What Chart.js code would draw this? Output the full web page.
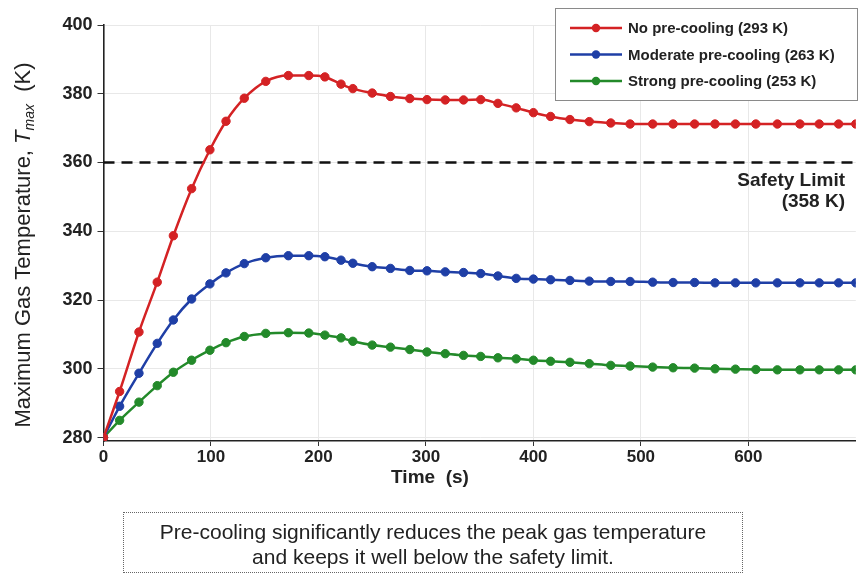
<!DOCTYPE html>
<html>
<head>
<meta charset="utf-8">
<title>Maximum gas temperature</title>
<script src="https://cdn.jsdelivr.net/npm/chart.js@4.4.1/dist/chart.umd.min.js"></script>
<style>
  body { margin: 0; background: #fff; }
  #wrap { position: relative; width: 861px; height: 574px; }
  #note {
    position: absolute;
    left: 123px;
    top: 512px;
    width: 620px;
    height: 61px;
    box-sizing: border-box;
    border: 1px dotted #666;
    padding-top: 6px;
    font: 21px "Liberation Sans", Arial, sans-serif;
    line-height: 25px;
    color: #222;
    text-align: center;
    white-space: nowrap;
  }
</style>
</head>
<body>
<div id="wrap">
  <canvas id="tempGraph" width="861" height="574"></canvas>
  <div id="note">Pre-cooling significantly reduces the peak gas temperature<br>and keeps it well below the safety limit.</div>
</div>
<script>
"use strict";

//DATA
const timeS = [0, 15, 33, 50, 65, 82, 99, 114, 131, 151,
  172, 191, 206, 221, 232, 250, 267, 285, 301, 318,
  335, 351, 367, 384, 400, 416, 434, 452, 472, 490,
  511, 530, 550, 569, 588, 607, 627, 648, 666, 684, 700];

const noPreCooling = [280, 293.4, 310.7, 325.2, 338.7, 352.4, 363.7, 372.0, 378.7, 383.6,
  385.3, 385.3, 384.9, 382.8, 381.5, 380.2, 379.2, 378.6, 378.3, 378.2,
  378.2, 378.3, 377.2, 375.9, 374.5, 373.4, 372.5, 371.9, 371.5, 371.2,
  371.2, 371.2, 371.2, 371.2, 371.2, 371.2, 371.2, 371.2, 371.2, 371.2, 371.2];

const moderatePreCooling = [280, 289.1, 298.7, 307.4, 314.2, 320.3, 324.7, 327.9, 330.6, 332.3,
  332.9, 332.9, 332.6, 331.6, 330.7, 329.7, 329.2, 328.6, 328.5, 328.2,
  328.0, 327.7, 327.0, 326.3, 326.1, 325.9, 325.7, 325.5, 325.4, 325.4,
  325.2, 325.1, 325.1, 325.0, 325.0, 325.0, 325.0, 325.0, 325.0, 325.0, 325.0];

const strongPreCooling = [280, 285.0, 290.3, 295.1, 299.0, 302.5, 305.4, 307.6, 309.4, 310.3,
  310.5, 310.4, 309.8, 309.0, 308.0, 306.9, 306.3, 305.6, 304.9, 304.4,
  303.9, 303.6, 303.2, 302.9, 302.5, 302.2, 301.9, 301.5, 301.0, 300.8,
  300.5, 300.3, 300.2, 300.0, 299.9, 299.8, 299.7, 299.7, 299.7, 299.7, 299.7];

const seriesLabels = ["No pre-cooling (293 K)", "Moderate pre-cooling (263 K)", "Strong pre-cooling (253 K)"];
const seriesColors = ["#d42224", "#1f3fa6", "#238a2a"];
const xTicks = [0, 100, 200, 300, 400, 500, 600];
const yTicks = [280, 300, 320, 340, 360, 380, 400];
const safetyLimit = 360;
const safetyText = ["Safety Limit", "(358 K)"];
const xTitle = "Time  (s)";

const FONT = '"Liberation Sans", Arial, sans-serif';

const toPoints = (arr) => timeS.map((t, i) => ({ x: t, y: arr[i] }));

const makeSet = (label, arr, color) => ({
  label: label,
  data: toPoints(arr),
  borderColor: color,
  backgroundColor: color,
  borderWidth: 2.5,
  pointRadius: 4.2,
  pointBorderWidth: 1,
  pointBorderColor: color,
  pointBackgroundColor: color,
  cubicInterpolationMode: "monotone",
});

// ====EXTRA DRAWING: safety line, legend, axis titles====
const extras = {
  id: "extras",
  beforeDatasetsDraw(chart) {
    const { ctx, chartArea } = chart;
    const y = chart.scales.y.getPixelForValue(safetyLimit);
    ctx.save();
    ctx.strokeStyle = "#111";
    ctx.lineWidth = 2.6;
    ctx.setLineDash([11, 7]);
    ctx.beginPath();
    ctx.moveTo(chartArea.left, y);
    ctx.lineTo(chartArea.right, y);
    ctx.stroke();
    ctx.restore();
  },
  afterDraw(chart) {
    const ctx = chart.ctx;
    ctx.save();

    //Safety label
    ctx.fillStyle = "#222";
    ctx.font = "bold 19px " + FONT;
    ctx.textAlign = "right";
    ctx.textBaseline = "middle";
    ctx.fillText(safetyText[0], 845, 181);
    ctx.fillText(safetyText[1], 845, 202);

    //X title
    ctx.font = "bold 19px " + FONT;
    ctx.textAlign = "center";
    ctx.fillText(xTitle, 430, 478);

    //Legend
    ctx.fillStyle = "#fff";
    ctx.fillRect(555.5, 8.5, 302, 92);
    ctx.strokeStyle = "#8a8a8a";
    ctx.lineWidth = 1;
    ctx.strokeRect(555.5, 8.5, 302, 92);
    chart.data.datasets.forEach((ds, i) => {
      const ry = 28 + i * 26.5;
      ctx.strokeStyle = ds.borderColor;
      ctx.lineWidth = 2.5;
      ctx.beginPath();
      ctx.moveTo(570, ry);
      ctx.lineTo(622, ry);
      ctx.stroke();
      ctx.fillStyle = ds.borderColor;
      ctx.beginPath();
      ctx.arc(596, ry, 4.2, 0, Math.PI * 2);
      ctx.fill();
      ctx.fillStyle = "#222";
      ctx.font = "bold 15px " + FONT;
      ctx.textAlign = "left";
      ctx.fillText(ds.label, 628, ry + 1);
    });

    //Y axis title with italic T and subscript max
    const parts = [
      { t: "Maximum Gas Temperature, ", f: "22px " + FONT, dy: 0 },
      { t: "T", f: "italic 22px " + FONT, dy: 0 },
      { t: "max", f: "italic 14px " + FONT, dy: 6 },
      { t: "  (K)", f: "22px " + FONT, dy: 0 },
    ];
    let total = 0;
    parts.forEach((p) => {
      ctx.font = p.f;
      p.w = ctx.measureText(p.t).width;
      total += p.w;
    });
    ctx.translate(24, 245);
    ctx.rotate(-Math.PI / 2);
    ctx.fillStyle = "#222";
    ctx.textAlign = "left";
    ctx.textBaseline = "middle";
    let px = -total / 2;
    parts.forEach((p) => {
      ctx.font = p.f;
      ctx.fillText(p.t, px, p.dy);
      px += p.w;
    });
    ctx.restore();
  },
};

//GRAPH
const tempGraph = document.getElementById("tempGraph").getContext("2d");
const myChart = new Chart(tempGraph, {
  type: "line",
  data: {
    datasets: [
      makeSet(seriesLabels[0], noPreCooling, seriesColors[0]),
      makeSet(seriesLabels[1], moderatePreCooling, seriesColors[1]),
      makeSet(seriesLabels[2], strongPreCooling, seriesColors[2]),
    ],
  },
  options: {
    responsive: false,
    animation: false,
    devicePixelRatio: 1,
    layout: { padding: { top: 25, right: 0, bottom: 103, left: 0 } },
    plugins: {
      legend: { display: false },
      tooltip: { enabled: false },
    },
    scales: {
      x: {
        type: "linear",
        min: 0,
        max: 700,
        afterBuildTicks: (s) => { s.ticks = xTicks.map((v) => ({ value: v })); },
        afterFit: (s) => { s.height = 30; },
        grid: { color: "#e8e8e8", tickColor: "#333", tickLength: 5, lineWidth: 1 },
        border: { color: "#222", width: 1.6 },
        ticks: { color: "#222", padding: 1, font: { family: FONT, size: 17, weight: "bold" } },
      },
      y: {
        min: 279,
        max: 400,
        afterBuildTicks: (s) => { s.ticks = yTicks.map((v) => ({ value: v })); },
        afterFit: (s) => { s.width = 103.5; },
        grid: { color: "#e8e8e8", tickColor: "#333", tickLength: 6, lineWidth: 1 },
        border: { color: "#222", width: 1.6 },
        ticks: { color: "#222", padding: 5, font: { family: FONT, size: 18, weight: "bold" } },
      },
    },
  },
  plugins: [extras],
});
</script>
</body>
</html>
